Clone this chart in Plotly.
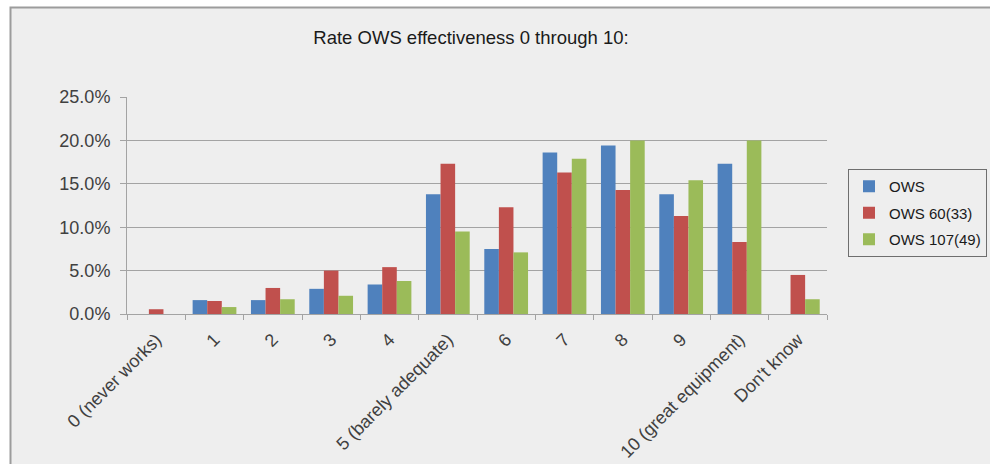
import plotly.graph_objects as go

# Survey answers (share of respondents, in percent)
categories = ["0 (never works)", "1", "2", "3", "4", "5 (barely adequate)",
              "6", "7", "8", "9", "10 (great equipment)", "Don't know"]
ows = [0.0, 1.6, 1.6, 2.9, 3.4, 13.8, 7.5, 18.6, 19.4, 13.8, 17.3, 0.0]
ows_60 = [0.55, 1.5, 3.0, 5.0, 5.4, 17.3, 12.3, 16.3, 14.3, 11.3, 8.3, 4.5]
ows_107 = [0.0, 0.8, 1.7, 2.1, 3.8, 9.5, 7.1, 17.9, 20.0, 15.4, 20.0, 1.7]

series = [("OWS", ows, "#4f81bd"),
          ("OWS 60(33)", ows_60, "#c0504d"),
          ("OWS 107(49)", ows_107, "#9bbb59")]

W, H = 990, 464
ML, MR, MT, MB = 127, 163, 97, 150
PW, PH = W - ML - MR, H - MT - MB


def px_x(x):
    return (x - ML) / PW


def px_y(y):
    return (H - MB - y) / PH


FONT = "Liberation Sans, Arial, sans-serif"
GRID = "#a3a3a3"

fig = go.Figure()
for i, (name, vals, color) in enumerate(series):
    fig.add_trace(go.Bar(
        x=categories, y=vals, name=name,
        marker=dict(color=color, line=dict(width=0)),
        legendgroup=f"g{i}",
    ))

# chart area panel with its grey frame
fig.add_shape(type="rect", xref="paper", yref="paper",
              x0=px_x(10.5), x1=px_x(1010), y0=px_y(490), y1=px_y(7.5),
              fillcolor="#eeeeee", line=dict(color="#9c9c9c", width=2),
              layer="below")

fig.update_layout(
    width=W, height=H,
    margin=dict(l=ML, r=MR, t=MT, b=MB, autoexpand=False),
    paper_bgcolor="white",
    plot_bgcolor="rgba(0,0,0,0)",
    barmode="group", bargap=0.25, bargroupgap=0,
    font=dict(family=FONT, color="#333333"),
    title=dict(text="Rate OWS effectiveness 0 through 10:",
               font=dict(family=FONT, size=18.5, color="#1a1a1a"),
               xref="container", yref="container",
               x=471 / W, xanchor="center",
               y=1 - 38 / H, yanchor="middle"),
    legend=dict(x=px_x(987), y=px_y(169), xanchor="right", yanchor="top",
                bgcolor="rgba(0,0,0,0)", bordercolor="#6e6e6e", borderwidth=1,
                font=dict(family=FONT, size=15, color="#1a1a1a"),
                itemwidth=30,
                traceorder="grouped", tracegroupgap=4),
    showlegend=True,
)

fig.update_xaxes(
    type="category", showgrid=False,
    showline=True, linecolor=GRID, linewidth=1,
    ticks="outside", tickson="boundaries", ticklen=5, tickcolor=GRID,
    tickangle=-45, ticklabelstandoff=7,
    tickfont=dict(family=FONT, size=18, color="#404040"),
)
fig.update_yaxes(
    range=[0, 25], dtick=5, tickformat=".1f", ticksuffix="%",
    showgrid=True, gridcolor=GRID, gridwidth=1,
    showline=True, linecolor=GRID, linewidth=1,
    ticks="outside", ticklen=6, tickcolor=GRID,
    ticklabelstandoff=6,
    tickfont=dict(family=FONT, size=18, color="#404040"),
    zeroline=False,
)

fig.write_html("out.html")
